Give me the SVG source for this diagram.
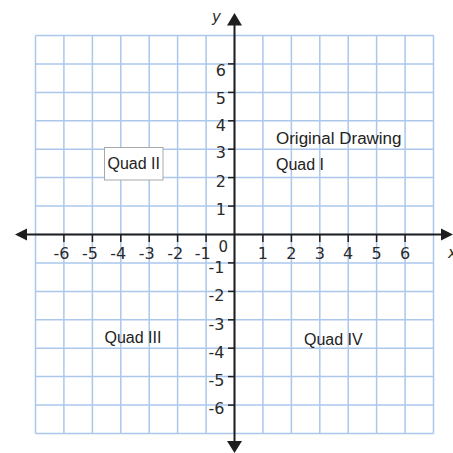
<svg xmlns="http://www.w3.org/2000/svg" width="453" height="453" viewBox="0 0 453 453">
<style>
.grid line{stroke:#abc7ec;stroke-width:1.5}
.axis{stroke:#1e1e1e;stroke-width:2;fill:none}
.tick{stroke:#1e1e1e;stroke-width:1.5}
.head{fill:#1e1e1e}
.num{font-family:"DejaVu Sans",Verdana,sans-serif;font-size:16px;fill:#2a2a2a}
.lab{font-family:"Liberation Sans",Arial,sans-serif;font-size:16px;fill:#222}
.ax{font-family:"DejaVu Sans",sans-serif;font-size:15px;font-style:italic;fill:#2a2a2a}
</style>
<rect width="453" height="453" fill="#fff"/>
<g id="grid" class="grid">
<line x1="35.5" y1="35.5" x2="35.5" y2="433.5"/>
<line x1="63.9" y1="35.5" x2="63.9" y2="433.5"/>
<line x1="92.4" y1="35.5" x2="92.4" y2="433.5"/>
<line x1="120.8" y1="35.5" x2="120.8" y2="433.5"/>
<line x1="149.2" y1="35.5" x2="149.2" y2="433.5"/>
<line x1="177.6" y1="35.5" x2="177.6" y2="433.5"/>
<line x1="206.1" y1="35.5" x2="206.1" y2="433.5"/>
<line x1="234.5" y1="35.5" x2="234.5" y2="433.5"/>
<line x1="262.9" y1="35.5" x2="262.9" y2="433.5"/>
<line x1="291.4" y1="35.5" x2="291.4" y2="433.5"/>
<line x1="319.8" y1="35.5" x2="319.8" y2="433.5"/>
<line x1="348.2" y1="35.5" x2="348.2" y2="433.5"/>
<line x1="376.6" y1="35.5" x2="376.6" y2="433.5"/>
<line x1="405.1" y1="35.5" x2="405.1" y2="433.5"/>
<line x1="433.5" y1="35.5" x2="433.5" y2="433.5"/>
<line x1="35.5" y1="35.5" x2="433.5" y2="35.5"/>
<line x1="35.5" y1="63.9" x2="433.5" y2="63.9"/>
<line x1="35.5" y1="92.4" x2="433.5" y2="92.4"/>
<line x1="35.5" y1="120.8" x2="433.5" y2="120.8"/>
<line x1="35.5" y1="149.2" x2="433.5" y2="149.2"/>
<line x1="35.5" y1="177.6" x2="433.5" y2="177.6"/>
<line x1="35.5" y1="206.1" x2="433.5" y2="206.1"/>
<line x1="35.5" y1="234.5" x2="433.5" y2="234.5"/>
<line x1="35.5" y1="262.9" x2="433.5" y2="262.9"/>
<line x1="35.5" y1="291.4" x2="433.5" y2="291.4"/>
<line x1="35.5" y1="319.8" x2="433.5" y2="319.8"/>
<line x1="35.5" y1="348.2" x2="433.5" y2="348.2"/>
<line x1="35.5" y1="376.6" x2="433.5" y2="376.6"/>
<line x1="35.5" y1="405.1" x2="433.5" y2="405.1"/>
<line x1="35.5" y1="433.5" x2="433.5" y2="433.5"/>
</g>
<g id="axes">
<line class="axis" x1="22" y1="234.5" x2="446" y2="234.5"/>
<line class="axis" x1="234.5" y1="20" x2="234.5" y2="446"/>
<polygon class="head" points="15,234.5 27,228.5 27,240.5"/>
<polygon class="head" points="453,234.5 441,228.5 441,240.5"/>
<polygon class="head" points="234.5,13 227,25.5 242,25.5"/>
<polygon class="head" points="234.5,453 227,441 242,441"/>
<g id="xticks">
<line class="tick" x1="63.9" y1="234.5" x2="63.9" y2="242"/>
<line class="tick" x1="92.4" y1="234.5" x2="92.4" y2="242"/>
<line class="tick" x1="120.8" y1="234.5" x2="120.8" y2="242"/>
<line class="tick" x1="149.2" y1="234.5" x2="149.2" y2="242"/>
<line class="tick" x1="177.6" y1="234.5" x2="177.6" y2="242"/>
<line class="tick" x1="206.1" y1="234.5" x2="206.1" y2="242"/>
<line class="tick" x1="262.9" y1="234.5" x2="262.9" y2="242"/>
<line class="tick" x1="291.4" y1="234.5" x2="291.4" y2="242"/>
<line class="tick" x1="319.8" y1="234.5" x2="319.8" y2="242"/>
<line class="tick" x1="348.2" y1="234.5" x2="348.2" y2="242"/>
<line class="tick" x1="376.6" y1="234.5" x2="376.6" y2="242"/>
<line class="tick" x1="405.1" y1="234.5" x2="405.1" y2="242"/>
</g>
<g id="yticks">
<line class="tick" x1="228" y1="63.9" x2="234.5" y2="63.9"/>
<line class="tick" x1="228" y1="92.4" x2="234.5" y2="92.4"/>
<line class="tick" x1="228" y1="120.8" x2="234.5" y2="120.8"/>
<line class="tick" x1="228" y1="149.2" x2="234.5" y2="149.2"/>
<line class="tick" x1="228" y1="177.6" x2="234.5" y2="177.6"/>
<line class="tick" x1="228" y1="206.1" x2="234.5" y2="206.1"/>
<line class="tick" x1="228" y1="262.9" x2="234.5" y2="262.9"/>
<line class="tick" x1="228" y1="291.4" x2="234.5" y2="291.4"/>
<line class="tick" x1="228" y1="319.8" x2="234.5" y2="319.8"/>
<line class="tick" x1="228" y1="348.2" x2="234.5" y2="348.2"/>
<line class="tick" x1="228" y1="376.6" x2="234.5" y2="376.6"/>
<line class="tick" x1="228" y1="405.1" x2="234.5" y2="405.1"/>
</g>
</g>
<g id="xlabels" class="num">
<text x="69.4" y="259" text-anchor="end">-6</text>
<text x="97.9" y="259" text-anchor="end">-5</text>
<text x="126.3" y="259" text-anchor="end">-4</text>
<text x="154.7" y="259" text-anchor="end">-3</text>
<text x="183.1" y="259" text-anchor="end">-2</text>
<text x="210.6" y="259" text-anchor="end">-1</text>
<text x="262.9" y="259" text-anchor="middle">1</text>
<text x="291.4" y="259" text-anchor="middle">2</text>
<text x="319.8" y="259" text-anchor="middle">3</text>
<text x="348.2" y="259" text-anchor="middle">4</text>
<text x="376.6" y="259" text-anchor="middle">5</text>
<text x="405.1" y="259" text-anchor="middle">6</text>
<text x="218.5" y="252" font-size="15">0</text>
</g>
<g id="ylabels" class="num" text-anchor="end">
<text x="226" y="75.5">6</text>
<text x="226" y="103.5">5</text>
<text x="226" y="130.5">4</text>
<text x="226" y="158">3</text>
<text x="226" y="186.5">2</text>
<text x="226" y="214.5">1</text>
<text x="224.5" y="272.5">-1</text>
<text x="224.5" y="301">-2</text>
<text x="224.5" y="329.5">-3</text>
<text x="224.5" y="358">-4</text>
<text x="224.5" y="386">-5</text>
<text x="224.5" y="414">-6</text>
</g>
<text class="ax" x="212" y="22">y</text>
<text class="ax" x="448" y="258">x</text>
<g id="quad2">
<rect x="104.5" y="147.5" width="58.5" height="32.5" fill="#fff" stroke="#a8a8a8" stroke-width="1"/>
<text class="lab" x="107.5" y="168.5">Quad II</text>
</g>
<g id="quad1">
<text class="lab" x="276" y="143.5" textLength="125.5" lengthAdjust="spacingAndGlyphs">Original Drawing</text>
<text class="lab" x="276" y="170">Quad I</text>
</g>
<g id="quad3">
<text class="lab" x="104.5" y="343">Quad III</text>
</g>
<g id="quad4">
<text class="lab" x="304" y="344.5">Quad IV</text>
</g>
</svg>
